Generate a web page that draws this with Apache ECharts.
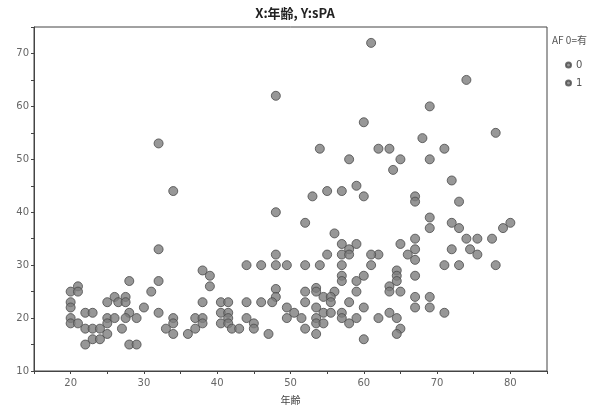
<!DOCTYPE html>
<html><head><meta charset="utf-8">
<script src="https://cdn.jsdelivr.net/npm/echarts@6/dist/echarts.min.js"></script>
<style>html,body{margin:0;padding:0;background:#fff}#c{width:616px;height:410px}</style>
</head><body><div id="c"></div>
<script>
const titleText = 'X:年齢, Y:sPA';
const xName = '年齢';
const legendTitle = 'AF 0=有';
const seriesNames = ['0', '1'];
const xTicks = [20, 30, 40, 50, 60, 70, 80];
const yTicks = [10, 20, 30, 40, 50, 60, 70];

// [年齢, sPA] for AF = 0
const af0 = [
  [61,72],[74,65],[69,60],[60,57],[78,55],[68,54],[62,52],[63.5,52],[71,52],[65,50],[69,50],[64,48],[72,46],
  [60,43],[67,43],[67,42],[73,42],[69,39],[72,38],[80,38],[69,37],[73,37],[79,37],[67,35],[74,35],[75.5,35],
  [77.5,35],[65,34],[67,33],[72,33],[74.5,33],[62,32],[66,32],[75.5,32],[67,31],[71,30],[73,30],[78,30],
  [64.5,29],[60,28],[64.5,28],[67,28],[64.5,27],[63.5,26],[63.5,25],[65,25],[67,24],[69,24],[60,22],[67,22],
  [69,22],[63.5,21],[71,21],[62,20],[64.5,20],[65,18],[64.5,17],[60,16],[48,62],[54,52],[58,50],[59,45],
  [32,53],[34,44],[48,40],[52,38],[56,36],[57,34],[59,34],[58,33],[61,32],[61,30],[59,27],[59,25],[58,23],
  [59,20],[58,19],[57,21]
];
// [年齢, sPA] for AF = 1
const af1 = [
  [53,43],[55,44],[57,44],[32,33],[48,32],[55,32],[57,32],[58,32],[44,30],[46,30],[48,30],[49.5,30],[52,30],
  [54,30],[57,30],[38,29],[39,28],[57,28],[28,27],[32,27],[57,27],[21,26],[39,26],[53.5,25.7],[48,25.5],
  [20,25],[21,25],[31,25],[52,25],[53.5,25],[56,25],[48,24],[26,24],[27.5,24],[54.5,24],[55.5,24],
  [20,23],[25,23],[26.5,23],[27.5,23],[38,23],[40.5,23],[41.5,23],[44,23],[46,23],[47.5,23],[52,23],[55.5,23],
  [20,22],[30,22],[49.5,22],[53.5,22],[22,21],[23,21],[28,21],[32,21],[40.5,21],[41.5,21],[50.5,21],[54.5,21],
  [55.5,21],[20,20],[25,20],[26,20],[27.5,20],[29,20],[34,20],[37,20],[38,20],[41.5,20],[44,20],[49.5,20],
  [51.5,20],[53.5,20],[57,20],[20,19],[21,19],[25,19],[34,19],[38,19],[40.5,19],[41.5,19],[45,19],[53.5,19],
  [54.5,19],[22,18],[23,18],[24,18],[27,18],[33,18],[37,18],[42,18],[43,18],[45,18],[52,18],[25,17],[34,17],
  [36,17],[47,17],[53.5,17],[23,16],[24,16],[22,15],[28,15],[29,15]
];

const chart = echarts.init(document.getElementById('c'), null, {renderer: 'canvas'});
const lblFmt = ticks => v => ticks.includes(v) ? String(v) : '';
const markStyle = {color: '#7d7d7d', borderColor: '#4a4a4a', borderWidth: 1};
chart.setOption({
  animation: false,
  backgroundColor: '#fff',
  title: {text: titleText, left: 290, top: 2, textAlign: 'center',
    textStyle: {fontFamily: 'Noto Sans CJK JP', fontSize: 13, fontWeight: 'bold', color: '#222'}},
  grid: {left: 34, right: 69, top: 27, bottom: 38, show: true, borderColor: '#444', borderWidth: 1},
  legend: {orient: 'vertical', left: 560, top: 55, itemWidth: 5, itemHeight: 5, itemGap: 8, icon: 'circle',
    data: seriesNames, textStyle: {fontSize: 10, color: '#555', fontFamily: 'DejaVu Sans'}},
  graphic: [{type: 'text', left: 552, top: 35,
    style: {text: legendTitle, fontSize: 10, fill: '#555', fontFamily: 'Noto Sans CJK JP'}}],
  xAxis: {type: 'value', min: 15, max: 85, interval: 5, name: xName, nameLocation: 'middle', nameGap: 24,
    nameTextStyle: {fontSize: 10, color: '#444', fontFamily: 'Noto Sans CJK JP'},
    axisLine: {lineStyle: {color: '#444'}}, axisTick: {show: true, length: 3, lineStyle: {color: '#444'}},
    axisLabel: {formatter: lblFmt(xTicks), color: '#666', fontSize: 10, fontFamily: 'DejaVu Sans', margin: 7},
    splitLine: {show: false}},
  yAxis: {type: 'value', min: 10, max: 75, interval: 5,
    axisLine: {show: true, lineStyle: {color: '#444'}}, axisTick: {show: true, length: 3, lineStyle: {color: '#444'}},
    axisLabel: {formatter: lblFmt(yTicks), color: '#666', fontSize: 10, fontFamily: 'DejaVu Sans', margin: 5},
    splitLine: {show: false}},
  series: [
    {name: seriesNames[0], type: 'scatter', data: af0, symbolSize: 9, itemStyle: markStyle},
    {name: seriesNames[1], type: 'scatter', data: af1, symbolSize: 9, itemStyle: markStyle}
  ]
});
</script></body></html>
